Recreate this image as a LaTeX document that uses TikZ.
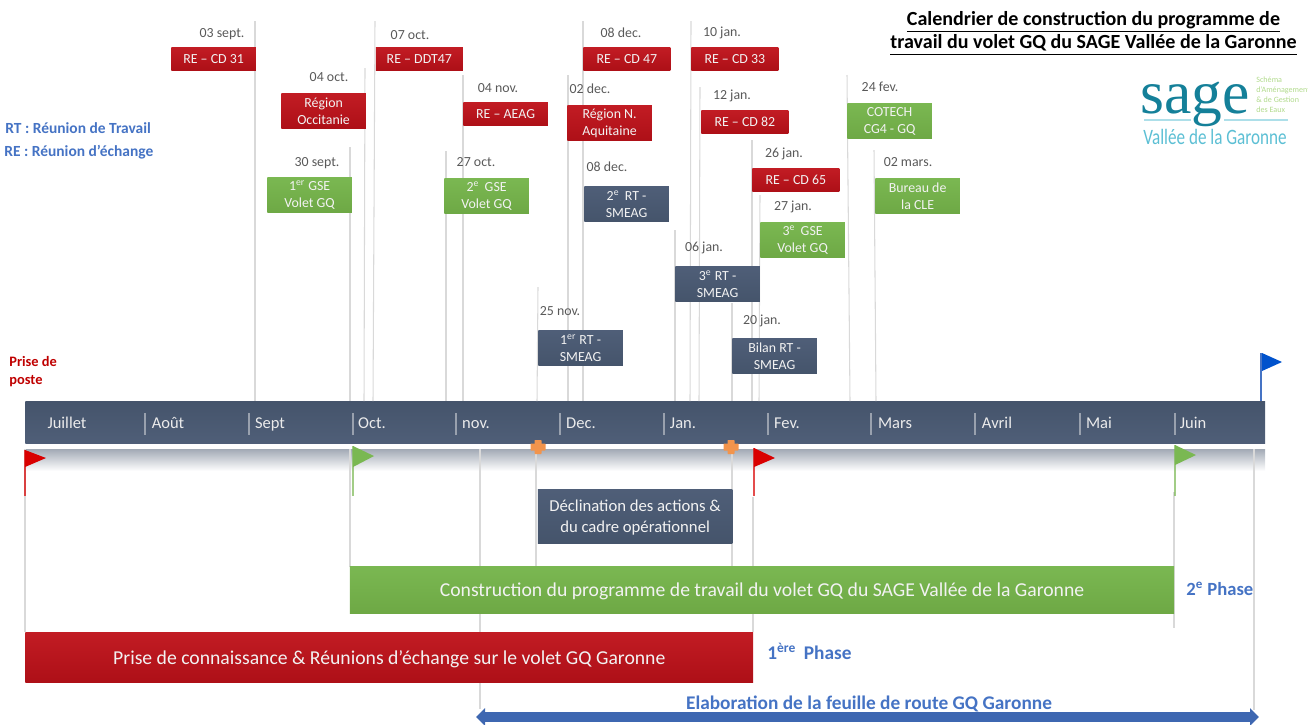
\documentclass[tikz,border=0pt]{standalone}
\usepackage{fontspec}
\setmainfont{Carlito}
\newfontfamily\logofont{Liberation Serif}
\usetikzlibrary{arrows.meta}
\usetikzlibrary{positioning}
\definecolor{mred}{rgb}{0.68, 0.06, 0.09}
\definecolor{mredtop}{rgb}{0.76, 0.11, 0.14}
\definecolor{mgreen}{rgb}{0.43, 0.66, 0.27}
\definecolor{mgreentop}{rgb}{0.48, 0.72, 0.32}
\definecolor{mslate}{rgb}{0.27, 0.33, 0.42}
\definecolor{mslatetop}{rgb}{0.31, 0.37, 0.47}
\definecolor{mblue}{rgb}{0.27, 0.45, 0.77}
\definecolor{morange}{rgb}{0.95, 0.58, 0.30}
\definecolor{mteal}{rgb}{0.08, 0.50, 0.60}
\definecolor{msky}{rgb}{0.36, 0.75, 0.83}
\definecolor{mgrey}{rgb}{0.85, 0.85, 0.85}
\tikzset{box/.style = {inner sep = 0, align = center, text = white!95!black, anchor = north west,
                       font = \fontsize{7.9}{9.6}\selectfont}}
\tikzset{redbox/.style = {box, top color = mredtop, bottom color = mred}}
\tikzset{greenbox/.style = {box, top color = mgreentop, bottom color = mgreen}}
\tikzset{slatebox/.style = {box, top color = mslatetop, bottom color = mslate}}
\tikzset{short/.style = {minimum width = 1.69cm, minimum height = 0.46cm}}
\tikzset{shortwide/.style = {minimum width = 1.74cm, minimum height = 0.46cm}}
\tikzset{tall/.style = {minimum width = 1.69cm, minimum height = 0.71cm}}
\tikzset{datelabel/.style = {inner sep = 0, text = black!65, text height = 5.4pt, text depth = 1.6pt,
                             font = \fontsize{7.9}{9}\selectfont}}
\tikzset{month/.style = {inner sep = 0, text = white!92!black, text height = 6.4pt, text depth = 1.8pt,
                         font = \fontsize{9.4}{10}\selectfont}}
\tikzset{legend/.style = {inner sep = 0, anchor = west, text = mblue, font = \fontsize{8.8}{10}\selectfont\bfseries}}
\tikzset{phase/.style = {inner sep = 0, text = mblue, font = \fontsize{11}{12}\selectfont\bfseries}}
\tikzset{leader/.style = {draw = mgrey, line width = 0.6pt}}
\tikzset{pole/.style = {line width = 0.6pt}}
\begin{document}
\begin{tikzpicture}[x=0.02cm, y=-0.02cm]
      \useasboundingbox (0, 0) rectangle (1308, 724);

      \node (bar) [anchor=north west, inner sep=0, minimum width=24.8cm, minimum height=0.84cm,
                   top color=mslate, bottom color=mslatetop] at (25, 401) {};

      \foreach \name/\x/\y/\xb in {cdA/255/21/255, occ/365/68/364, gseA/350/147/350, ddt/375/21/373,
                                   aeag/463/75/463, gseB/446/151/446, naq/568/75/568, cdB/583/21/583,
                                   rtA/538/287/537, cdC/691/21/690, cdD/700/87/699, cdE/752/140/752,
                                   gseC/760/195/759, rtC/675/230/675, bilan/732/303/732, cotech/847/75/850,
                                   cle/874/150/876}
        {
          \coordinate (top\name) at (\x, \y);
          \coordinate (end\name) at (\xb, 401);
          \draw [leader] (top\name) -- (end\name);
        }

      \foreach \name/\x/\txt in {juillet/67/Juillet, aout/168/Août, sept/270/Sept, oct/372/Oct.,
                                 nov/476/nov., dec/581/Dec., jan/683/Jan., fev/787/Fev.,
                                 mars/895/Mars, avril/997/Avril, mai/1099/Mai, juin/1193/Juin}
        \node (\name) [month] at (\x, 424.5) {\txt};
      \foreach \x in {145, 249, 353, 456, 560, 664, 768, 871, 975, 1080, 1175}
        \draw [white!45!mslate, line width=0.6pt] (\x, 413) -- (\x, 435);

      \fill [top color=mslate!50, bottom color=white, draw=none] (25, 449) rectangle (1265, 471);

      \foreach \name/\x/\ya/\yb in {lA/25/449/632, lB/350/449/567, lC/480/449/709, lD/536/453/567,
                                    lE/732/453/567, lF/753/497/632, lG/1174/492/628, lH/1254/449/710}
        {
          \coordinate (\name a) at (\x, \ya);
          \coordinate (\name b) at (\x, \yb);
          \draw [leader] (\name a) -- (\name b);
        }

      \foreach \x/\col/\ya/\yb/\ymid in {25/red!85!black/450/467/458, 353/mgreentop/446/467/456,
                                         754/red!85!black/448/467/458, 1175/mgreentop/445/465/455}
        {
          \draw [\col, pole, opacity=0.7] (\x, \ya) -- (\x, 496);
          \fill [\col] (\x, \ya) -- (\x + 21, \ymid) -- (\x, \yb) -- cycle;
        }
      \coordinate (poleT) at (1261, 353);
      \coordinate (poleB) at (1261, 401);
      \draw [mblue, pole] (poleT) -- (poleB);
      \fill [blue!60!cyan!80!black] (1262, 353) -- (1282, 362) -- (1262, 371) -- cycle;

      \foreach \x in {538, 731}
        {
          \fill [morange, rounded corners=0.4pt] (\x - 3.5, 440) rectangle (\x + 3.5, 454);
          \fill [morange, rounded corners=0.4pt] (\x - 7.5, 443.5) rectangle (\x + 7.5, 450.5);
        }

      \node (cdAbox) [redbox, short] at (171, 47) {RE – CD 31};
      \node (occbox) [redbox, tall] at (281, 93) {Région\\Occitanie};
      \node (gseAbox) [greenbox, tall] at (267, 177) {1\textsuperscript{er} GSE\\Volet GQ};
      \node (ddtbox) [redbox, shortwide] at (375.5, 47) {RE – DDT47};
      \node (aeagbox) [redbox, short] at (463, 102) {RE – AEAG};
      \node (gseBbox) [greenbox, tall] at (444, 178) {2\textsuperscript{e}\, GSE\\Volet GQ};
      \node (naqbox) [redbox, tall] at (567, 105) {Région N.\\Aquitaine};
      \node (cdBbox) [redbox, short, minimum width=1.74cm] at (583, 47) {RE – CD 47};
      \node (rtBbox) [slatebox, tall] at (584, 186) {2\textsuperscript{e}\, RT -\\SMEAG};
      \node (rtAbox) [slatebox, tall] at (538, 330) {1\textsuperscript{er} RT -\\SMEAG};
      \node (cdCbox) [redbox, shortwide] at (691, 47) {RE – CD 33};
      \node (cdDbox) [redbox, shortwide] at (701, 110) {RE – CD 82};
      \node (cdEbox) [redbox, shortwide] at (752, 168) {RE – CD 65};
      \node (gseCbox) [greenbox, tall] at (760, 222) {3\textsuperscript{e}\, GSE\\Volet GQ};
      \node (rtCbox) [slatebox, tall] at (675, 266) {3\textsuperscript{e} RT -\\SMEAG};
      \node (bilanbox) [slatebox, tall] at (732, 338) {Bilan RT -\\SMEAG};
      \node (cotechbox) [greenbox, tall] at (847, 103) {COTECH\\CG4 - GQ};
      \node (clebox) [greenbox, tall] at (875, 178) {Bureau de\\la CLE};

      \foreach \name/\x/\y/\txt in {dA/222/34/03 sept., dB/329/78/04 oct., dC/317/163/30 sept.,
                                    dD/410/36/07 oct., dE/498/89/04 nov., dF/476/163/27 oct.,
                                    dG/590/90/02 dec., dH/621/34/08 dec., dI/607/168/08 dec.,
                                    dJ/560/312/25 nov., dK/722/33/10 jan., dL/732/96/12 jan.,
                                    dM/784/154/26 jan., dN/793/207/27 jan., dO/704/248/06 jan.,
                                    dP/762/321/20 jan., dQ/880/88/24 fev., dR/908/163/02 mars.}
        \node (\name) [datelabel] at (\x, \y) {\txt};

      \node (actions) [box, minimum width=3.89cm, minimum height=1.08cm, top color=mslatetop, bottom color=mslate,
                       text depth=0pt, font=\fontsize{9.5}{12}\selectfont] at (537.5, 489)
        {Déclination des actions \&\\du cadre opérationnel};
      \node (construction) [box, minimum width=16.49cm, minimum height=0.94cm, top color=mgreentop, bottom color=mgreen,
                            text depth=0pt, font=\fontsize{11.2}{13}\selectfont] at (349.5, 566)
        {Construction du programme de travail du volet GQ du SAGE Vallée de la Garonne};
      \node (connaissance) [box, minimum width=14.56cm, minimum height=1.0cm, top color=mredtop, bottom color=mred,
                            text depth=0pt, font=\fontsize{11.2}{13}\selectfont] at (25, 632)
        {Prise de connaissance \& Réunions d’échange sur le volet GQ Garonne};

      \coordinate (routeL) at (476, 717);
      \coordinate (routeR) at (1259, 717);
      \draw [{Triangle[width=0.34cm, length=0.18cm]}-{Triangle[width=0.34cm, length=0.18cm]},
             mblue!90!black, line width=0.2cm] (routeL) -- (routeR);

      \node (route) [phase] at (869, 703.5) {Elaboration de la feuille de route GQ Garonne};
      \node (phaseB) [phase, anchor=west, font=\fontsize{10.6}{12}\selectfont\bfseries] at (1186, 589) {2\textsuperscript{e} Phase};
      \node (phaseA) [phase, anchor=west] at (767, 651.5) {1\textsuperscript{ère}\, Phase};

      \node (legendT) [legend] at (5, 128) {RT : Réunion de Travail};
      \node (legendE) [legend] at (4, 152) {RE : Réunion d’échange};
      \node (prise) [legend, text=red!75!black, align=left, anchor=north west,
                     font=\fontsize{8.2}{10.4}\selectfont\bfseries] at (9, 356) {Prise de\\poste};

      \node (title) [inner sep=0, align=center, font=\fontsize{11.4}{13.6}\selectfont\bfseries] at (1093.5, 33)
        {\underline{Calendrier de construction du programme de}\\\underline{travail du volet GQ du SAGE Vallée de la Garonne}};

      \node (sage) [inner sep=0, anchor=base, text=mteal, font=\fontsize{35}{36}\logofont] at (1195, 113) {sage};
      \node (schema) [inner sep=0, anchor=north west, align=left, text=green!35!olive!45!white,
                      font=\fontsize{4.6}{5.6}\selectfont] at (1256, 77) {Schéma\\d’Aménagement\\\& de Gestion\\des Eaux};
      \node (vallee) [inner sep=0, text=msky, font=\fontsize{12.5}{14}\selectfont] at (1215, 137)
        {\scalebox{0.78}[1]{Vallée de la Garonne}};
      \coordinate (ruleA) at (1144, 120);
      \coordinate (ruleB) at (1191, 120);
      \coordinate (ruleC) at (1224, 120);
      \coordinate (ruleD) at (1288, 120);
      \draw [msky!50, line width=0.6pt] (ruleA) -- (ruleB) (ruleC) -- (ruleD);
    \end{tikzpicture}
\end{document}
